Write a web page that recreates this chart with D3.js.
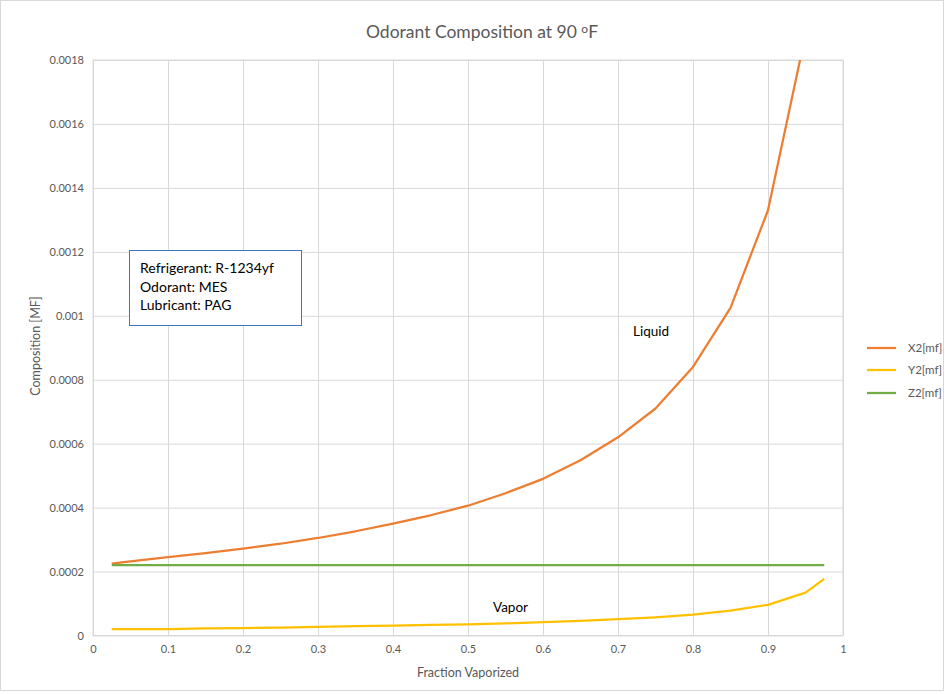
<!DOCTYPE html>
<html><head><meta charset="utf-8">
<script src="https://cdn.jsdelivr.net/npm/d3@7"></script>
<style>body{margin:0;background:#fff}svg{display:block}</style>
</head><body>
<script>
const fraction = [0.025,0.05,0.1,0.15,0.2,0.25,0.3,0.35,0.4,0.45,0.5,0.55,0.6,0.65,0.7,0.75,0.8,0.85,0.9,0.95,0.975];
const x2 = [0.000225,0.000232,0.000245,0.000258,0.000272,0.000287,0.000305,0.000326,0.00035,0.000376,0.000406,0.000445,0.00049,0.000548,0.00062,0.00071,0.00084,0.001025,0.00133,0.00188,0.0024];
const y2 = [0.00002,0.00002,0.00002,0.000022,0.000023,0.000025,0.000027,0.000029,0.000031,0.000033,0.000035,0.000038,0.000042,0.000046,0.000051,0.000057,0.000065,0.000078,0.000096,0.000134,0.000177];
const z2 = fraction.map(() => 0.00022);
const xTicks = [0,0.1,0.2,0.3,0.4,0.5,0.6,0.7,0.8,0.9,1];
const yTicks = [0,0.0002,0.0004,0.0006,0.0008,0.001,0.0012,0.0014,0.0016,0.0018];
const seriesNames = ["X2[mf]","Y2[mf]","Z2[mf]"];
const seriesColors = ["#ED7D31","#FFC000","#70AD47"];
const infoLines = ["Refrigerant: R-1234yf","Odorant: MES","Lubricant: PAG"];

const W=945,H=694;
const L=93,R=843,T=60,B=635.5;
const font="Lato, 'Open Sans', sans-serif";
const svg=d3.select("body").append("svg").attr("width",W).attr("height",H);
svg.append("rect").attr("x",0.5).attr("y",0.5).attr("width",W-2).attr("height",H-4).attr("fill","#fff").attr("stroke","#d9d9d9");

const x=d3.scaleLinear().domain([0,1]).range([L,R]);
const y=d3.scaleLinear().domain([0,0.0018]).range([B,T]);

const gx=svg.append("g").attr("transform",`translate(0,${B})`)
  .call(d3.axisBottom(x).tickValues(xTicks).tickSize(-(B-T)).tickFormat(d=>d3.format("~g")(d)).tickPadding(10));
gx.select(".domain").remove();
gx.selectAll("line").attr("stroke","#d9d9d9");
gx.selectAll("text").attr("fill","#595959").style("font-family",font).style("font-size","11px");

const gy=svg.append("g").attr("transform",`translate(${L},0)`)
  .call(d3.axisLeft(y).tickValues(yTicks).tickSize(-(R-L)).tickFormat(d=>d===0?"0":String(+d.toFixed(4))).tickPadding(9));
gy.select(".domain").remove();
gy.selectAll("line").attr("stroke","#d9d9d9");
gy.selectAll("text").attr("fill","#595959").style("font-family",font).style("font-size","11px");

svg.append("rect").attr("x",L).attr("y",T).attr("width",R-L).attr("height",B-T).attr("fill","none").attr("stroke","#d9d9d9");

svg.append("clipPath").attr("id","clip").append("rect").attr("x",L).attr("y",T).attr("width",R-L).attr("height",B-T);

const line=d3.line().x((d,i)=>x(fraction[i])).y(d=>y(d));
[x2,y2,z2].forEach((s,k)=>{
  svg.append("path").datum(s).attr("d",line).attr("fill","none")
    .attr("stroke",seriesColors[k]).attr("stroke-width",2.25).attr("stroke-linejoin","round")
    .attr("clip-path","url(#clip)");
});

svg.append("text").attr("x",482).attr("y",38).attr("text-anchor","middle").attr("fill","#595959")
  .style("font-family",font).style("font-size","17.5px")
  .html("Odorant Composition at 90 <tspan dy='-5' font-size='12px'>o</tspan><tspan dy='5'>F</tspan>");

svg.append("text").attr("x",468).attr("y",677).attr("text-anchor","middle").attr("fill","#595959")
  .style("font-family",font).style("font-size","12.5px").text("Fraction Vaporized");
svg.append("text").attr("transform","translate(40,346) rotate(-90)").attr("text-anchor","middle").attr("fill","#595959")
  .style("font-family",font).style("font-size","12.5px").text("Composition [MF]");

const lg=svg.append("g");
seriesNames.forEach((n,k)=>{
  const yy=[348,370,393][k];
  lg.append("line").attr("x1",867).attr("x2",896).attr("y1",yy).attr("y2",yy).attr("stroke",seriesColors[k]).attr("stroke-width",2.25);
  lg.append("text").attr("x",908).attr("y",yy+4).attr("fill","#595959").style("font-family",font).style("font-size","11.5px").text(n);
});

svg.append("rect").attr("x",129.5).attr("y",250.5).attr("width",172).attr("height",75).attr("fill","#fff").attr("stroke","#4472C4");
infoLines.forEach((t,i)=>{
  svg.append("text").attr("x",140).attr("y",273+i*18.5).attr("fill","#000").style("font-family",font).style("font-size","14px").text(t);
});

svg.append("text").attr("x",633).attr("y",336).attr("fill","#000").style("font-family",font).style("font-size","13.5px").text("Liquid");
svg.append("text").attr("x",493).attr("y",612).attr("fill","#000").style("font-family",font).style("font-size","13.5px").text("Vapor");
</script>
</body></html>
